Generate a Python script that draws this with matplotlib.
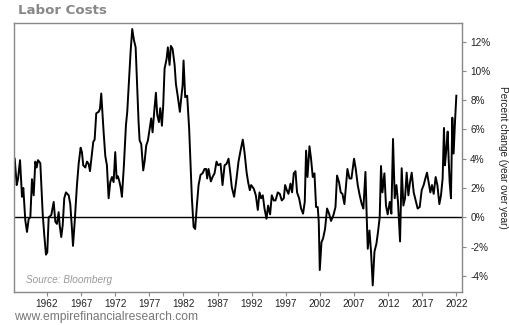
import matplotlib.pyplot as plt
from matplotlib.ticker import FuncFormatter

# Labor cost growth, percent change year over year
years = [
    1957.27, 1957.56, 1957.75, 1958.05, 1958.34, 1958.53, 1958.82, 1959.07, 1959.32, 1959.56,
    1959.80, 1960.05, 1960.29, 1960.49, 1960.68, 1961.02, 1961.37, 1961.60, 1961.85, 1962.04,
    1962.25, 1962.63, 1962.98, 1963.22, 1963.46, 1963.71, 1963.86, 1964.09, 1964.30, 1964.53,
    1964.78, 1965.18, 1965.41, 1965.66, 1965.81, 1966.06, 1966.39, 1966.64, 1966.93, 1967.12,
    1967.31, 1967.61, 1967.86, 1968.10, 1968.30, 1968.59, 1968.78, 1968.98, 1969.22, 1969.57,
    1969.76, 1969.95, 1970.30, 1970.54, 1970.78, 1971.03, 1971.27, 1971.52, 1971.76, 1972.00,
    1972.20, 1972.39, 1972.58, 1972.79, 1972.98, 1973.27, 1973.57, 1973.76, 1974.05, 1974.25,
    1974.49, 1974.74, 1974.99, 1975.22, 1975.42, 1975.57, 1975.81, 1976.10, 1976.30, 1976.54,
    1976.79, 1977.04, 1977.27, 1977.47, 1977.71, 1977.96, 1978.15, 1978.40, 1978.59, 1978.84,
    1979.03, 1979.23, 1979.52, 1979.71, 1979.96, 1980.15, 1980.40, 1980.70, 1980.89, 1981.18,
    1981.47, 1981.66, 1981.87, 1982.01, 1982.25, 1982.54, 1982.83, 1983.04, 1983.23, 1983.48,
    1983.71, 1983.96, 1984.21, 1984.50, 1984.79, 1985.09, 1985.32, 1985.47, 1985.67, 1986.01,
    1986.26, 1986.55, 1986.84, 1987.08, 1987.43, 1987.72, 1988.02, 1988.31, 1988.60, 1988.84,
    1989.08, 1989.42, 1989.71, 1990.06, 1990.36, 1990.69, 1990.94, 1991.24, 1991.47, 1991.72,
    1991.91, 1992.30, 1992.60, 1992.89, 1993.14, 1993.37, 1993.62, 1993.87, 1994.16, 1994.40,
    1994.69, 1994.94, 1995.23, 1995.48, 1995.82, 1996.11, 1996.40, 1996.70, 1996.89, 1997.14,
    1997.38, 1997.68, 1997.91, 1998.16, 1998.41, 1998.64, 1998.94, 1999.23, 1999.52, 1999.77,
    1999.96, 2000.17, 2000.46, 2000.69, 2000.94, 2001.19, 2001.43, 2001.67, 2001.82, 2001.97,
    2002.22, 2002.45, 2002.74, 2003.04, 2003.33, 2003.62, 2003.97, 2004.27, 2004.50, 2004.79,
    2005.04, 2005.29, 2005.58, 2005.82, 2006.02, 2006.32, 2006.61, 2006.99, 2007.24, 2007.53,
    2007.82, 2008.12, 2008.36, 2008.66, 2008.85, 2009.00, 2009.25, 2009.48, 2009.73, 2009.98,
    2010.27, 2010.50, 2010.75, 2010.94, 2011.15, 2011.44, 2011.67, 2011.92, 2012.22, 2012.46,
    2012.70, 2012.95, 2013.20, 2013.43, 2013.73, 2013.97, 2014.22, 2014.46, 2014.70, 2014.95,
    2015.19, 2015.44, 2015.73, 2016.02, 2016.31, 2016.61, 2016.90, 2017.19, 2017.44, 2017.68,
    2017.92, 2018.17, 2018.41, 2018.66, 2018.95, 2019.20, 2019.49, 2019.73, 2019.97, 2020.17,
    2020.31, 2020.52, 2020.71, 2020.85, 2021.00, 2021.19, 2021.39, 2021.58, 2021.78, 2021.98,
]
pct_change = [
    4.0, 2.2, 2.6, 3.9, 1.4, 2.0, -0.2, -1.0, -0.1, 0.0,
    2.6, 1.5, 3.8, 3.4, 3.9, 3.7, 0.25, -1.2, -2.55, -2.4,
    0.0, 0.15, 1.05, -0.3, -0.45, 0.35, -0.55, -1.35, -0.55, 1.3,
    1.7, 1.5, 0.9, -0.8, -1.95, -0.3, 2.2, 3.65, 4.75, 4.45,
    3.55, 3.4, 3.8, 3.65, 3.15, 4.35, 5.15, 5.3, 7.1, 7.2,
    7.4, 8.45, 5.8, 4.2, 3.55, 1.3, 2.4, 2.75, 2.4, 4.45,
    2.65, 2.8, 2.5, 2.05, 1.4, 3.55, 6.3, 7.2, 9.7, 11.3,
    12.85, 12.1, 11.6, 8.8, 6.5, 5.25, 5.0, 3.2, 3.8, 4.9,
    5.25, 6.05, 6.75, 5.8, 7.2, 8.5, 7.0, 6.5, 7.45, 6.25,
    7.65, 10.15, 10.8, 11.6, 10.4, 11.7, 11.5, 10.4, 9.1, 8.2,
    7.2, 8.1, 9.0, 10.7, 8.2, 8.3, 6.05, 3.55, 1.3, -0.65,
    -0.8, 0.8, 2.2, 2.9, 3.0, 3.3, 3.3, 2.65, 3.3, 2.45,
    2.75, 3.0, 3.8, 3.55, 3.65, 2.2, 3.55, 3.65, 4.0, 3.1,
    2.05, 1.4, 2.4, 3.8, 4.55, 5.3, 4.45, 3.1, 2.4, 1.85,
    2.2, 1.95, 1.5, 0.5, 1.7, 1.3, 1.5, 0.6, -0.1, 0.8,
    0.2, 1.5, 1.15, 1.15, 1.7, 1.6, 1.15, 1.3, 2.2, 1.85,
    1.6, 2.3, 1.7, 3.0, 3.15, 1.7, 1.3, 0.6, 0.25, 1.05,
    4.55, 2.75, 4.85, 4.0, 2.75, 3.0, 0.7, 0.7, -0.3, -3.6,
    -1.7, -1.45, -0.8, 0.6, 0.25, -0.25, 0.15, 0.7, 2.85, 2.4,
    1.7, 1.6, 0.9, 2.2, 3.3, 2.65, 2.65, 4.0, 3.3, 2.2,
    1.5, 0.9, 0.6, 3.1, 0.0, -2.15, -0.9, -2.35, -4.65, -2.35,
    -1.8, -1.0, 0.0, 3.5, 1.7, 3.0, 0.8, 0.2, 1.05, 0.25,
    5.35, 1.3, 2.2, 1.05, -1.65, 3.35, 0.8, 1.3, 3.05, 1.5,
    2.4, 3.05, 1.7, 1.15, 0.6, 0.7, 1.85, 2.2, 2.65, 3.05,
    2.4, 1.7, 2.2, 1.6, 2.75, 2.2, 0.9, 1.5, 2.65, 6.1,
    3.55, 4.7, 5.85, 4.0, 2.4, 1.3, 6.8, 4.35, 6.5, 8.3,
]
year_ticks = list(range(1962, 2023, 5))
pct_ticks = [-4, -2, 0, 2, 4, 6, 8, 10, 12]

plt.rcParams['font.family'] = ['Liberation Sans', 'DejaVu Sans']

fig = plt.figure(figsize=(5.1, 3.25), dpi=100)
ax = fig.add_axes([0.0275, 0.1015, 0.878, 0.8285])

ax.axhline(0, color='black', linewidth=1.0, zorder=1)
ax.plot(years, pct_change, color='black', linewidth=1.4, zorder=2)

ax.set_xlim(1957.17, 2022.78)
ax.set_ylim(-5.1, 13.28)

ax.set_xticks(year_ticks)
ax.set_yticks(pct_ticks)
ax.yaxis.set_major_formatter(FuncFormatter(lambda v, pos: '%d%%' % v))
ax.yaxis.tick_right()
ax.yaxis.set_label_position('right')
ax.tick_params(axis='both', direction='out', length=3, width=0.8, color='#888888',
               labelsize=7.2, labelcolor='#222222', pad=2)
ax.tick_params(axis='y', pad=3)

for side in ['left', 'right', 'top', 'bottom']:
    ax.spines[side].set_color('#888888')
    ax.spines[side].set_linewidth(1.0)

ax.set_ylabel('Percent change (year over year)', rotation=-90, fontsize=7.2,
              color='#222222', labelpad=13)

ax.text(0.027, 0.045, 'Source: Bloomberg', transform=ax.transAxes, fontsize=7.2,
        style='italic', color='#999999', ha='left', va='center')

fig.text(18 / 510, 1 - 10.5 / 325, 'Labor Costs', fontsize=9.6, fontweight='bold',
         color='#888888', family='DejaVu Sans', ha='left', va='center')
fig.text(14 / 510, 1 - 317 / 325, 'www.empirefinancialresearch.com', fontsize=8.7,
         color='#777777', ha='left', va='center')

fig.savefig('out.png', dpi=100)
